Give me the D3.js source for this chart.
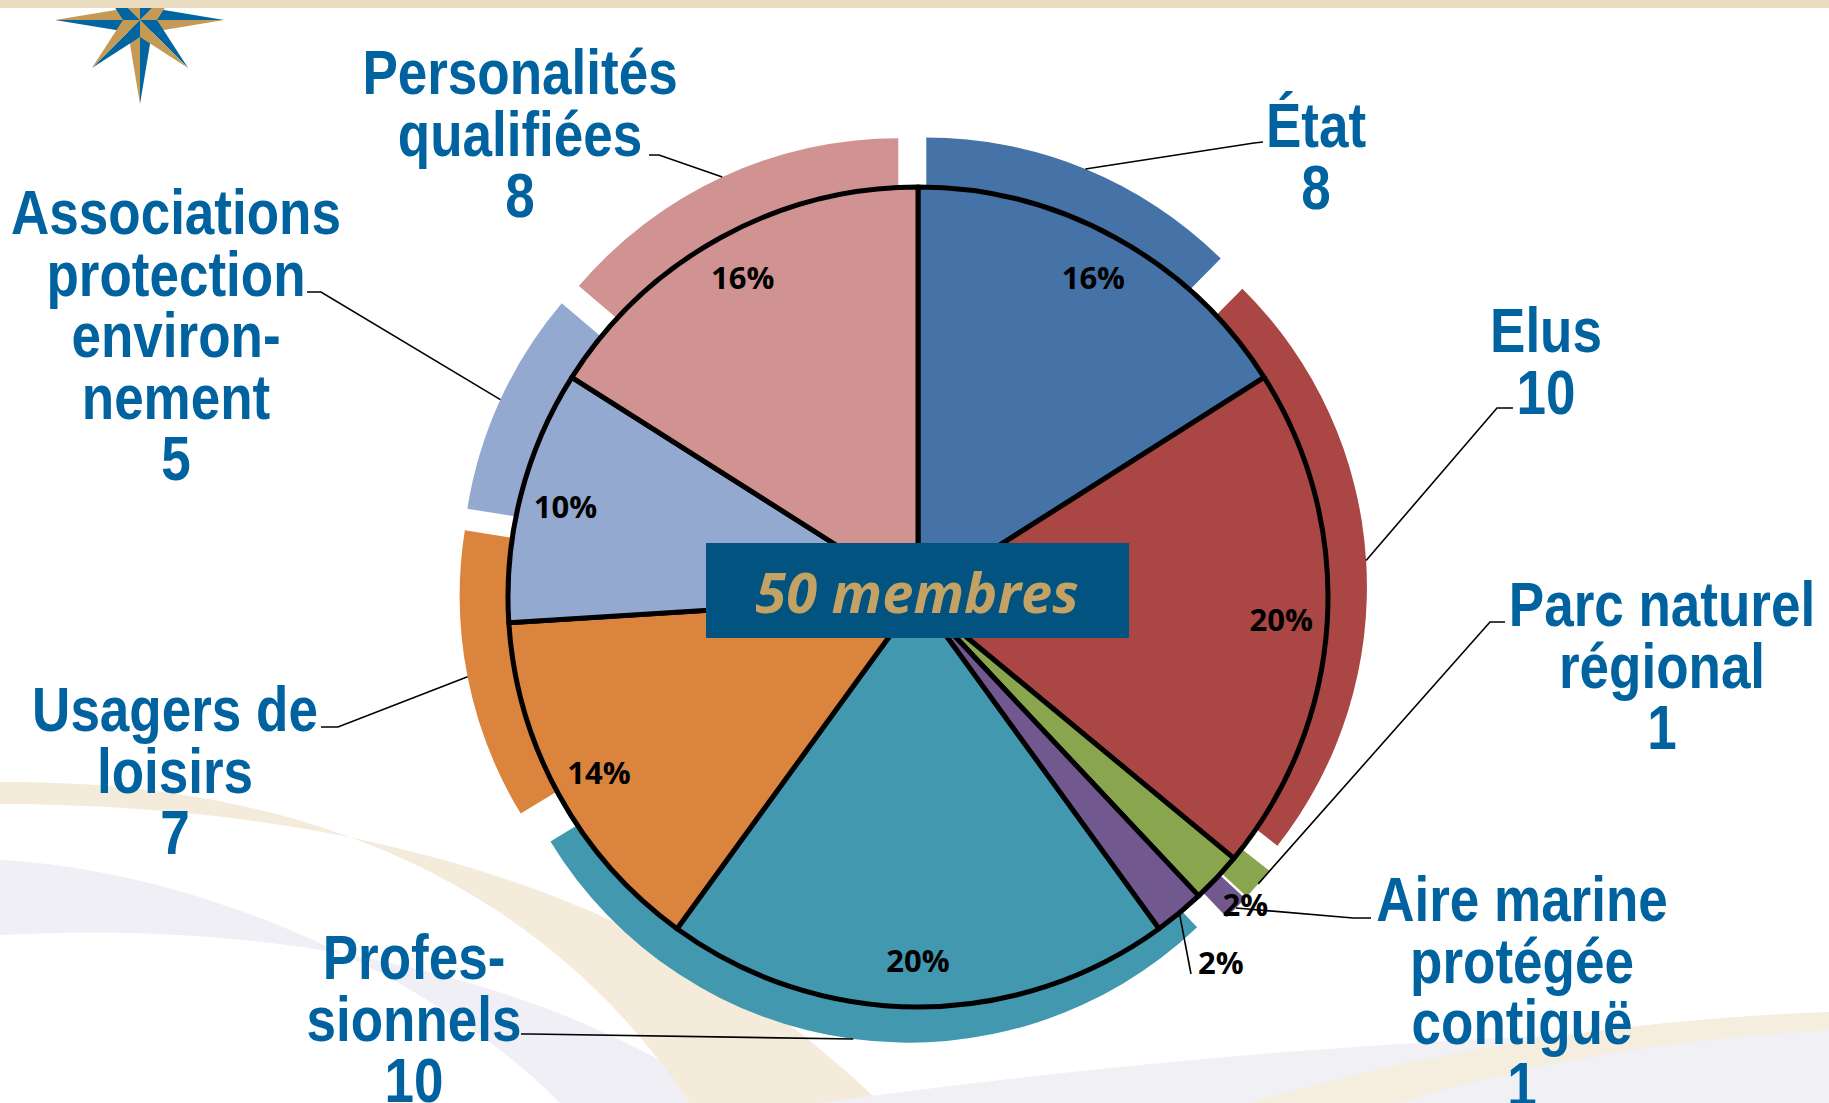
<!DOCTYPE html>
<html>
<head>
<meta charset="utf-8">
<script src="https://cdn.jsdelivr.net/npm/d3@7"></script>
<style>
  body { margin: 0; background: #fff; }
  svg { display: block; }
</style>
</head>
<body>
<div id="graph"></div>
<script>
const width = 1829
const height = 1103

// --- data ---
const categories = ['État', 'Elus', 'Parc naturel régional', 'Aire marine protégée contiguë',
  'Professionnels', 'Usagers de loisirs', 'Associations protection environnement', 'Personalités qualifiées']
const members = [8, 10, 1, 1, 10, 7, 5, 8]
// shares of the exploded outer ring (%)
const ringShares = [12.4, 23.2, 1.3, 1.0, 28.4, 11.2, 8.7, 13.8]
const nameLines = [['État'], ['Elus'], ['Parc naturel', 'régional'], ['Aire marine', 'protégée', 'contiguë'],
  ['Profes-', 'sionnels'], ['Usagers de', 'loisirs'], ['Associations', 'protection', 'environ-', 'nement'],
  ['Personalités', 'qualifiées']]
const colors = ['#4572A7', '#AA4643', '#89A54E', '#71588F', '#4198AF', '#DB843D', '#93A9CF', '#D19392']
const centerTitle = '50 membres'

// --- layout ---
const pieCenter = [918, 597]
const pieRadius = 410
const ringCenter = [913, 589]
const ringOuter = 419
const ringInner = 200
const explode = 35
const pctRadius = [364, 364, 449, 475, 364, 364, 364, 364]
const lineGap = 61.5
const narrow = 0.855
// label block centre x, first line centre y, leader elbow and end
const labelBox = [
  {x: 1316, y: 125, elbow: [1254, 143], end: [1263, 142]},
  {x: 1546, y: 330, elbow: [1497, 408], end: [1513, 408]},
  {x: 1662, y: 604, elbow: [1490, 622], end: [1505, 622]},
  {x: 1522, y: 899, elbow: [1353, 918], end: [1371, 918]},
  {x: 414, y: 957, elbow: [530, 1034], end: [521, 1034]},
  {x: 175, y: 709, elbow: [338, 727], end: [321, 727]},
  {x: 176, y: 212, elbow: [321, 292], end: [307, 292]},
  {x: 520, y: 72, elbow: [659, 155], end: [649, 155]}
]

const svg = d3.select('#graph')
  .append('svg')
  .attr('width', width)
  .attr('height', height)

// --- slide background decoration ---
const deco = svg.append('g')
deco.append('path')
  .attr('d', 'M0,860 C220,872 450,990 560,1103 L730,1103 C560,985 300,918 0,935 Z')
  .attr('fill', '#EFEFF5')
deco.append('path')
  .attr('d', 'M0,782 C300,780 540,880 690,1103 L880,1103 C680,905 380,805 0,804 Z')
  .attr('fill', '#F4EBDA')
deco.append('path')
  .attr('d', 'M820,1103 C1200,1050 1550,1030 1829,1028 L1829,1103 Z')
  .attr('fill', '#F0F0F5')
deco.append('path')
  .attr('d', 'M1250,1103 C1450,1045 1650,1018 1829,1012 L1829,1030 C1650,1040 1500,1070 1400,1103 Z')
  .attr('fill', '#F5EDDE')

// compass star logo
const star = deco.append('g').attr('transform', 'translate(140,20)')
const spikes = [[0, 82], [90, 84], [180, 84], [270, 85], [45, 68], [135, 68], [225, 68], [315, 68]]
const pt = (a, r) => [r * Math.sin(a * Math.PI / 180), -r * Math.cos(a * Math.PI / 180)]
spikes.forEach(([a, len]) => {
  const tip = pt(a, len)
  star.append('path').attr('d', d3.line()([[0, 0], tip, pt(a - 45, 17)])).attr('fill', '#0065A0')
  star.append('path').attr('d', d3.line()([[0, 0], tip, pt(a + 45, 17)])).attr('fill', '#C49A55')
})
deco.append('rect').attr('x', 0).attr('y', 0).attr('width', width).attr('height', 8).attr('fill', '#E9DBC0')

// --- exploded outer ring ---
const ringPie = d3.pie().sort(null).value((d) => d)(ringShares)
const ringArc = d3.arc().innerRadius(ringInner).outerRadius(ringOuter)
const mid = (d) => (d.startAngle + d.endAngle) / 2

svg.append('g')
  .attr('transform', `translate(${ringCenter})`)
  .selectAll('path')
  .data(ringPie)
  .join('path')
  .attr('transform', (d) => `translate(${explode * Math.sin(mid(d))},${-explode * Math.cos(mid(d))})`)
  .attr('d', ringArc)
  .attr('fill', (d, i) => colors[i])

// --- inner pie ---
const total = d3.sum(members)
const pieData = d3.pie().sort(null).value((d) => d)(members)
const pieArc = d3.arc().innerRadius(0).outerRadius(pieRadius)
const pieG = svg.append('g').attr('transform', `translate(${pieCenter})`)

pieG.selectAll('path')
  .data(pieData)
  .join('path')
  .attr('d', pieArc)
  .attr('fill', (d, i) => colors[i])
  .attr('stroke', '#000')
  .attr('stroke-width', 5)
  .attr('stroke-linejoin', 'round')

const pct = d3.format('.0%')
pieG.selectAll('text')
  .data(pieData)
  .join('text')
  .attr('x', (d, i) => pctRadius[i] * Math.sin(mid(d)))
  .attr('y', (d, i) => -pctRadius[i] * Math.cos(mid(d)))
  .attr('dy', '0.36em')
  .attr('text-anchor', 'middle')
  .attr('font-family', '"Open Sans", sans-serif')
  .attr('font-weight', 700)
  .attr('font-size', 31)
  .attr('fill', '#000')
  .text((d) => pct(d.value / total))

// leader for the small "Aire marine" percentage
const small = pieData[3]
pieG.append('path')
  .attr('d', d3.line()([[pieRadius * Math.sin(mid(small)), -pieRadius * Math.cos(mid(small))],
    [1191 - pieCenter[0], 974 - pieCenter[1]]]))
  .attr('stroke', '#000').attr('stroke-width', 1.6).attr('fill', 'none')

// --- centre title ---
svg.append('rect')
  .attr('x', 706).attr('y', 543).attr('width', 423).attr('height', 95)
  .attr('fill', '#02537F')
svg.append('text')
  .attr('x', 917).attr('y', 613)
  .attr('text-anchor', 'middle')
  .attr('font-family', '"Open Sans", sans-serif')
  .attr('font-weight', 700)
  .attr('font-style', 'italic')
  .attr('font-size', 56)
  .attr('fill', '#C4A264')
  .text(centerTitle)

// --- category labels with leader lines ---
const leaders = svg.append('g')
ringPie.forEach((d, i) => {
  const a = mid(d)
  const r = ringOuter + explode
  const start = [ringCenter[0] + r * Math.sin(a), ringCenter[1] - r * Math.cos(a)]
  leaders.append('path')
    .attr('d', d3.line()([start, labelBox[i].elbow, labelBox[i].end]))
    .attr('stroke', '#000')
    .attr('stroke-width', 1.6)
    .attr('fill', 'none')
})

const labels = svg.append('g')
  .attr('font-family', '"Liberation Sans", Arial, sans-serif')
  .attr('font-weight', 700)
  .attr('font-size', 62)
  .attr('fill', '#0063A0')
  .attr('text-anchor', 'middle')

// narrow bold face: regular bold squeezed horizontally
categories.forEach((c, i) => {
  const lines = nameLines[i].concat(String(members[i]))
  const t = labels.append('text')
    .attr('transform', `translate(${labelBox[i].x},0) scale(${narrow},1)`)
  lines.forEach((s, k) => {
    t.append('tspan')
      .attr('x', 0)
      .attr('y', labelBox[i].y + k * lineGap)
      .attr('dy', '0.36em')
      .text(s)
  })
})
</script>
</body>
</html>
